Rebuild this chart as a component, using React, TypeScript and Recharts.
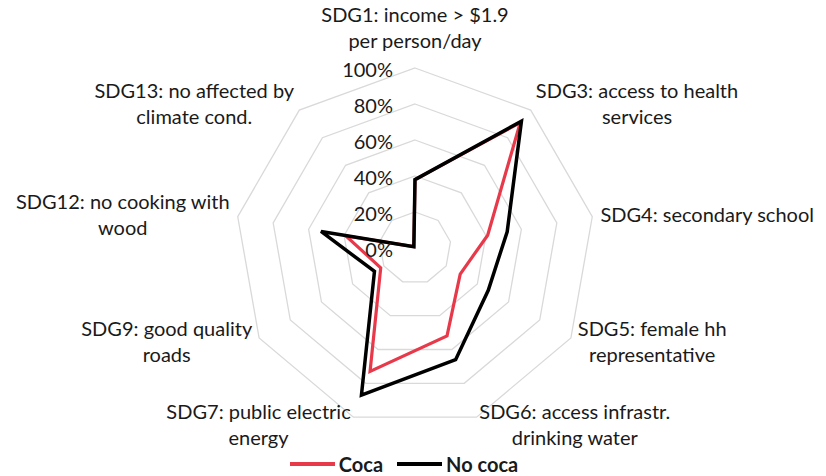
import { RadarChart, Radar, PolarGrid, PolarAngleAxis, PolarRadiusAxis, Legend } from 'recharts';

const categoryLines: string[][] = [
  ['SDG1: income > $1.9', 'per person/day'],
  ['SDG3: access to health', 'services'],
  ['SDG4: secondary school'],
  ['SDG5: female hh', 'representative'],
  ['SDG6: access infrastr.', 'drinking water'],
  ['SDG7: public electric', 'energy'],
  ['SDG9: good quality', 'roads'],
  ['SDG12: no cooking with', 'wood'],
  ['SDG13: no affected by', 'climate cond.'],
];

// share of households (%)
const coca = [38, 91, 41, 29, 52, 73, 22, 39, 1];
const noCoca = [38, 92, 52, 47, 66, 87, 26, 53, 1];

const radiusTicks = [0, 20, 40, 60, 80, 100];

const seriesNames = { coca: 'Coca', noCoca: 'No coca' };
const colors = { coca: '#e8394a', noCoca: '#000000' };

const data = categoryLines.map((lines, i) => ({
  sdg: lines.join(' '),
  coca: coca[i],
  noCoca: noCoca[i],
}));

const FONT = 'Lato, "Open Sans", sans-serif';
const FONT_SIZE = 20;
const LINE_H = 26;
const TEXT = '#1a1a1a';

let ctx: CanvasRenderingContext2D | null = null;
function textWidth(s: string) {
  if (!ctx) ctx = document.createElement('canvas').getContext('2d');
  if (!ctx) return s.length * FONT_SIZE * 0.5;
  ctx.font = `${FONT_SIZE}px ${FONT}`;
  return ctx.measureText(s).width;
}

function AngleTick(props: any) {
  const { x, y, payload, textAnchor } = props;
  const lines = categoryLines[payload.index] ?? [String(payload.value)];
  const blockW = Math.max(...lines.map(textWidth));
  let midX = x;
  if (textAnchor === 'start') midX = x + blockW / 2;
  if (textAnchor === 'end') midX = x - blockW / 2;
  // top label sits above the tick, the others are centred on it
  const firstY = textAnchor === 'middle' && y < props.cy
    ? y - 7 - (lines.length - 0.5) * LINE_H
    : y - 1 - ((lines.length - 1) * LINE_H) / 2;
  return (
    <text textAnchor="middle" fontFamily={FONT} fontSize={FONT_SIZE} fill={TEXT}>
      {lines.map((l, i) => (
        <tspan key={i} x={midX} y={firstY + i * LINE_H} dominantBaseline="central">
          {l}
        </tspan>
      ))}
    </text>
  );
}

function RadiusTick(props: any) {
  const { x, y, payload } = props;
  return (
    <text x={x - 22} y={y + 1} textAnchor="end" dominantBaseline="central" fontFamily={FONT} fontSize={FONT_SIZE} fill={TEXT}>
      {`${payload.value}%`}
    </text>
  );
}

function LegendContent() {
  const keys: (keyof typeof seriesNames)[] = ['coca', 'noCoca'];
  return (
    <div style={{ display: 'flex', justifyContent: 'center', gap: 14, fontFamily: FONT, fontSize: FONT_SIZE, fontWeight: 700, color: TEXT, marginLeft: -18, marginTop: 2 }}>
      {keys.map((k) => (
        <div key={k} style={{ display: 'flex', alignItems: 'center', gap: 4 }}>
          <span style={{ display: 'inline-block', width: 45, height: 4, background: colors[k] }} />
          <span>{seriesNames[k]}</span>
        </div>
      ))}
    </div>
  );
}

export default function App() {
  return (
    <div style={{ margin: '-8px 0 0 -8px', width: 826, height: 476 }}>
      <RadarChart
        width={826}
        height={476}
        data={data}
        cx={415}
        cy={248}
        outerRadius={180}
        margin={{ top: 0, right: 0, bottom: 0, left: 0 }}
      >
        <PolarGrid gridType="polygon" radialLines={false} stroke="#d9d9d9" strokeWidth={1.3} />
        <PolarAngleAxis dataKey="sdg" tick={<AngleTick />} tickLine={false} axisLine={false} />
        <PolarRadiusAxis
          angle={90}
          domain={[0, 100]}
          ticks={radiusTicks as any}
          tick={<RadiusTick />}
          axisLine={false}
          tickLine={false}
        />
        <Radar
          name={seriesNames.coca}
          dataKey="coca"
          stroke={colors.coca}
          strokeWidth={3.2}
          fill="none"
          fillOpacity={0}
          dot={false}
          isAnimationActive={false}
        />
        <Radar
          name={seriesNames.noCoca}
          dataKey="noCoca"
          stroke={colors.noCoca}
          strokeWidth={3.5}
          fill="none"
          fillOpacity={0}
          dot={false}
          isAnimationActive={false}
        />
        <Legend verticalAlign="bottom" content={<LegendContent />} />
      </RadarChart>
    </div>
  );
}
